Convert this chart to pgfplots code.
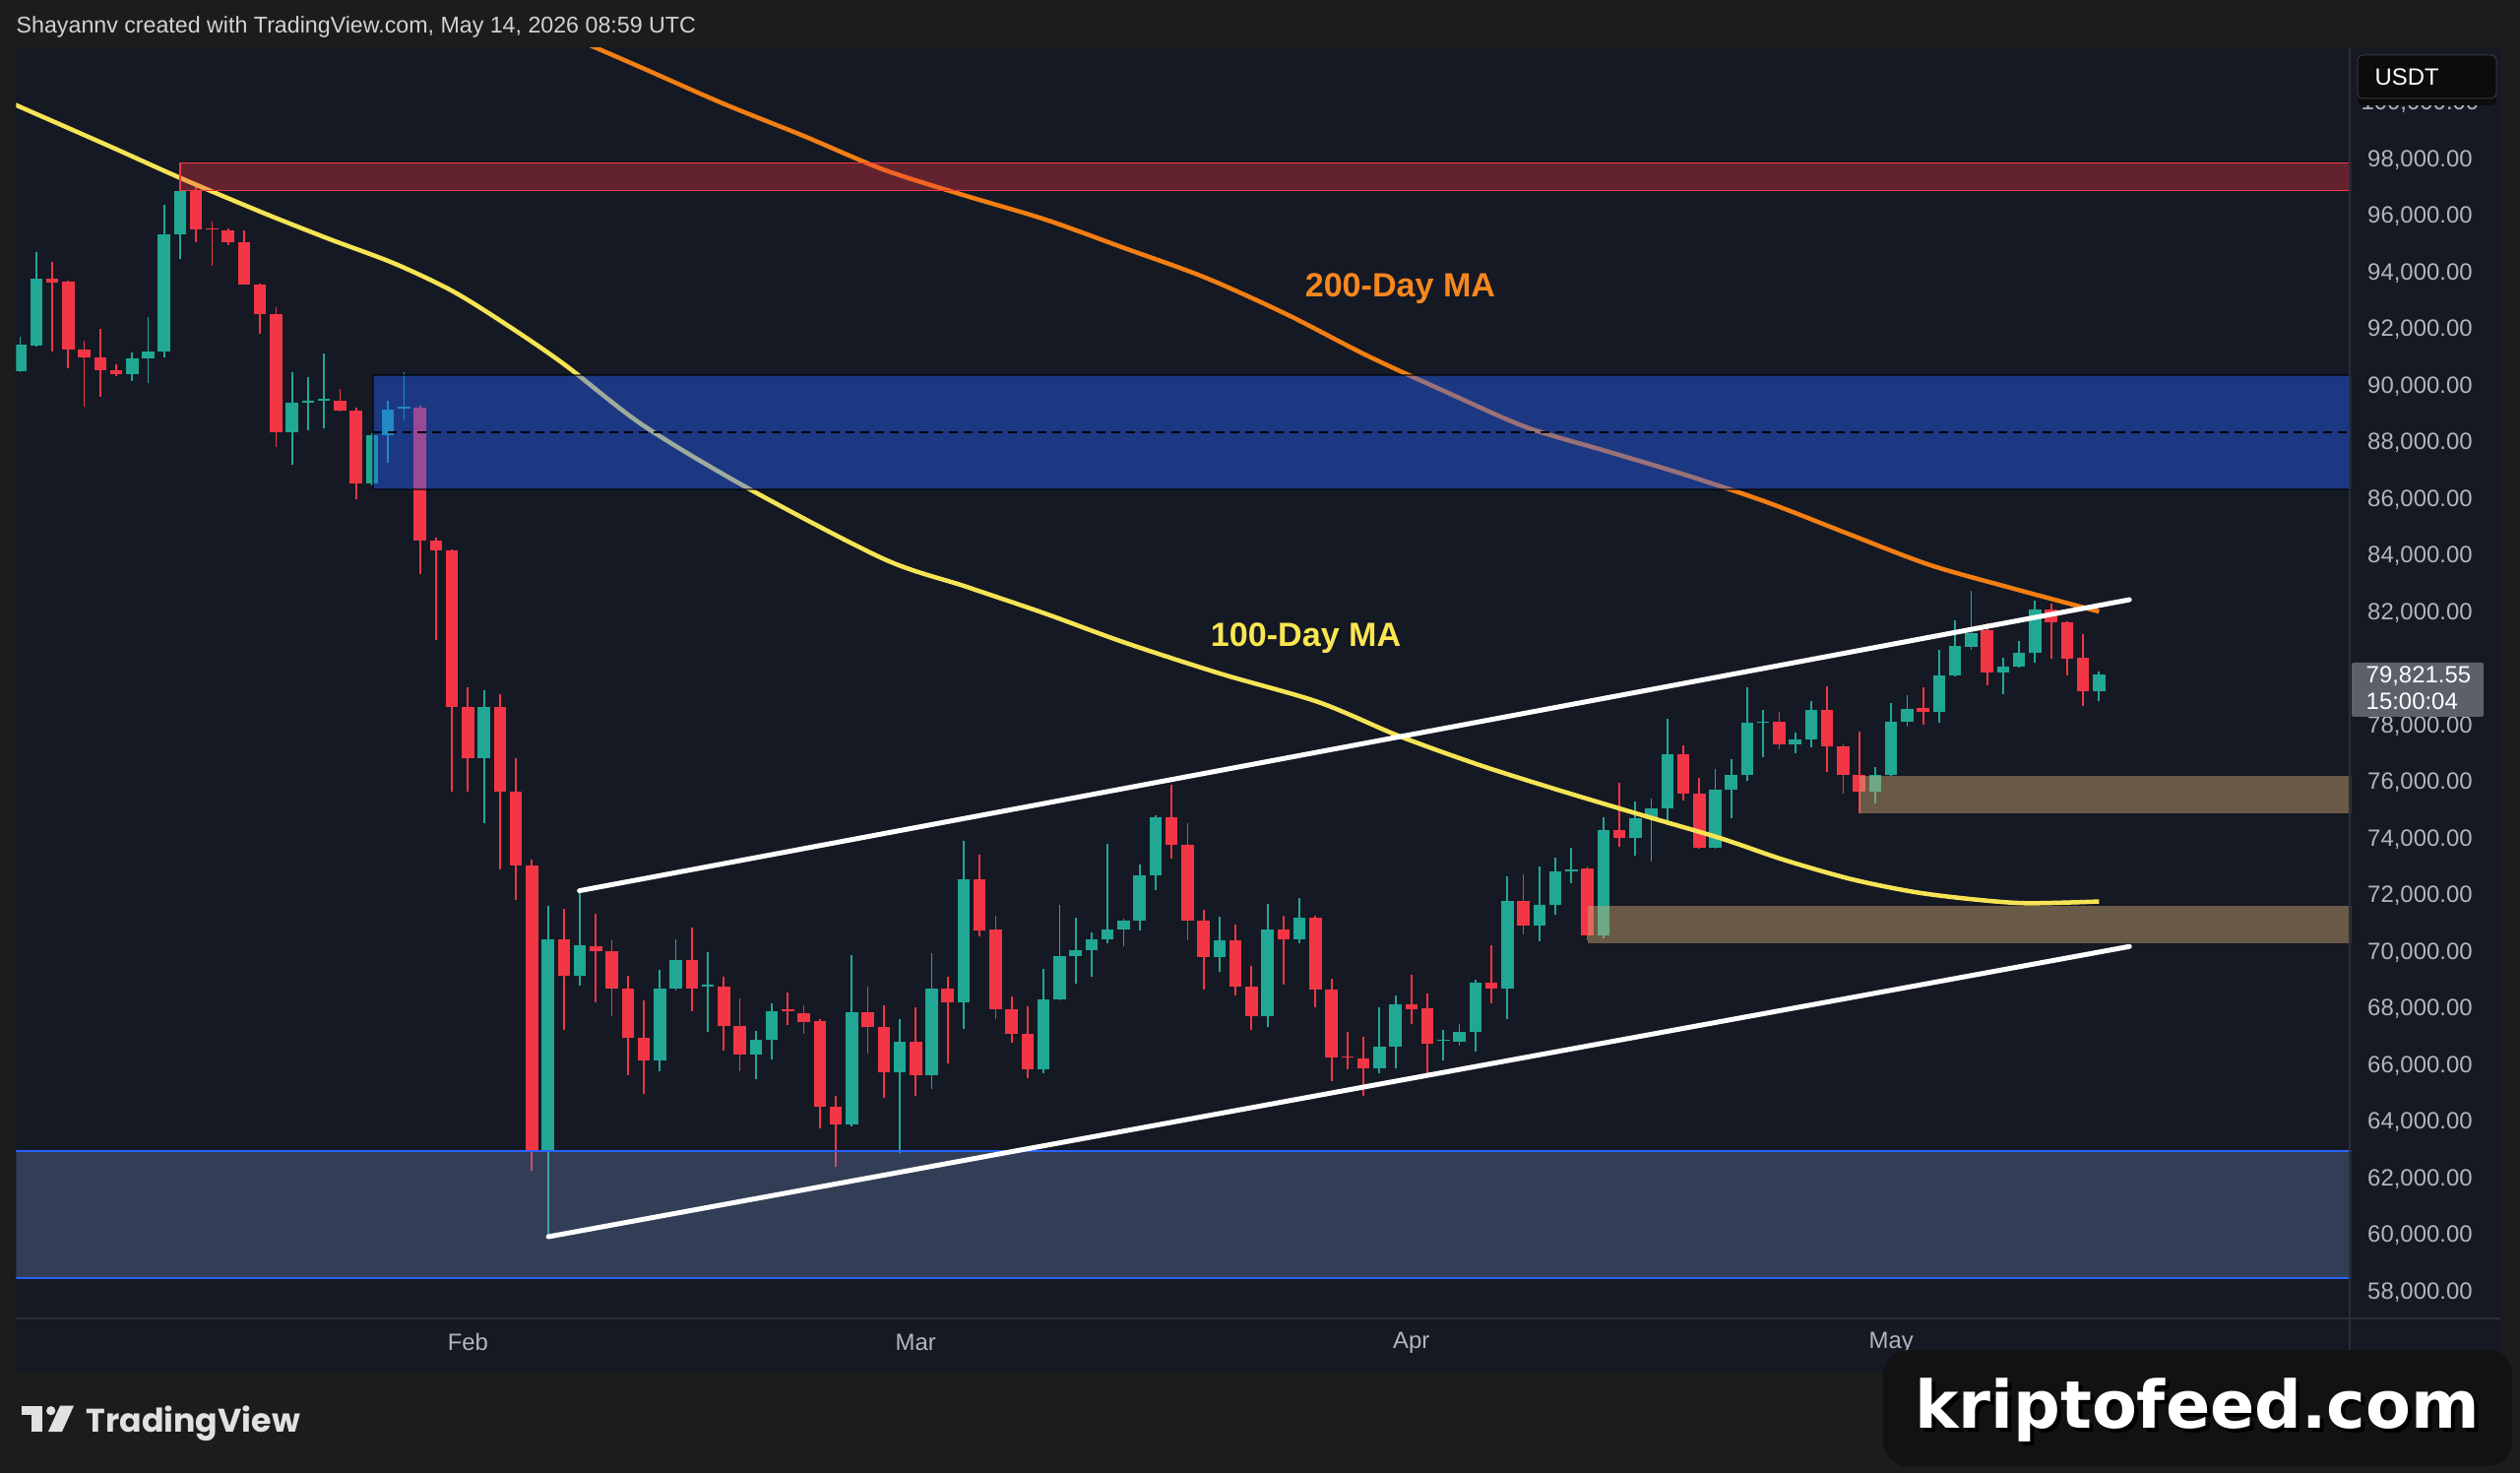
\documentclass[border=0pt]{standalone}
\usepackage{pgfplots}
\pgfplotsset{compat=1.18}
\usepackage{pgfplotstable}
\usepackage{fontspec}
\setmainfont{Liberation Sans}
\newfontfamily\dejavu{DejaVu Sans}
\newfontfamily\popp{Poppins}
\definecolor{outerbg}{RGB}{28,28,28}
\definecolor{panelbg}{RGB}{21,25,36}
\definecolor{axisgray}{RGB}{178,181,190}
\definecolor{sepcol}{RGB}{42,46,57}
\definecolor{tvgreen}{RGB}{32,168,148}
\definecolor{tvred}{RGB}{242,54,69}
\definecolor{maYellow}{RGB}{247,228,84}
\definecolor{maOrange}{RGB}{243,126,18}
\definecolor{lblOrange}{RGB}{247,135,30}
\definecolor{lblYellow}{RGB}{250,230,80}
\definecolor{boxBlue}{RGB}{41,98,255}
\definecolor{boxBrown}{RGB}{209,170,115}
\definecolor{boxSlate}{RGB}{119,149,200}
\definecolor{priceBox}{RGB}{93,96,107}
\definecolor{headTxt}{RGB}{210,210,210}
\definecolor{usdtBg}{RGB}{12,12,12}
\definecolor{usdtBorder}{RGB}{55,55,60}
\definecolor{logoCol}{RGB}{225,225,225}
\definecolor{wmBg}{RGB}{18,18,18}

\pgfplotstableread{
d o h l c
-28 90550 91760 90500 91470
-27 91460 94750 91400 93820
-21 90440 91210 90200 90980
-20 90980 92470 90110 91250
-19 91250 96430 91040 95390
-18 95390 97000 94520 96900
-11 88370 90520 87230 89420
-10 89420 90320 88460 89510
-9 89500 91180 88520 89580
-6 86560 88350 86520 88290
-5 88290 89480 87300 89190
-4 89230 90500 88800 89300
1 76880 79280 74590 78680
5 62960 71640 59970 70490
7 69180 72190 68840 70250
12 66200 69400 65830 68740
13 68740 70460 68650 69730
15 68800 70030 67220 68860
18 66390 67240 65550 66910
19 66910 68220 66215 67930
24 63930 69900 63870 67900
27 65790 67670 62940 66850
29 65690 69990 65170 68750
31 68250 73960 67320 72580
36 65870 69440 65750 68340
37 68340 71690 68300 69870
38 69870 71240 68910 70080
39 70080 70720 69140 70470
40 70470 73840 70330 70830
41 70830 71200 70220 71150
42 71130 73120 70800 72740
43 72740 74850 72210 74800
47 69830 71280 69320 70430
50 67750 71730 67380 70820
52 70470 71930 70330 71240
57 65900 68070 65730 66680
58 66680 68500 65930 68190
61 66880 67290 66190 66930
62 66850 67470 66710 67220
63 67200 69030 66510 68940
65 68740 72690 67640 71840
67 70970 73060 70390 71700
68 71700 73350 71350 72890
69 72880 73700 72460 72930
71 70620 74800 70510 74340
73 74050 75340 73440 74740
74 74740 75460 73230 75090
75 75090 78280 74510 77000
78 73700 76480 73670 75760
79 75760 76830 74740 76280
80 76280 79380 76080 78110
81 78110 78570 76920 78160
83 77350 77780 77060 77550
84 77550 78890 77260 78570
88 75700 76570 75290 76280
89 76280 78820 76250 78150
90 78150 79110 77990 78600
92 78500 80700 78140 79790
93 79790 81740 79760 80830
94 80810 82800 80710 81300
96 79900 80420 79150 80110
97 80110 81000 80080 80600
98 80600 82420 80230 82140
102 79230 79930 78880 79820
}\greentab

\pgfplotstableread{
d o h l c
-26 93820 94400 91250 93680
-25 93700 93750 90630 91310
-24 91310 91620 89280 91040
-23 91040 92050 89650 90580
-22 90580 90770 90380 90440
-17 96900 97130 95100 95560
-16 95600 95820 94260 95540
-15 95510 95600 94980 95080
-14 95100 95510 93590 93610
-13 93610 93620 91850 92550
-12 92570 92800 87880 88370
-8 89510 89910 89120 89160
-7 89160 89240 86030 86560
-3 89250 89320 83370 84570
-2 84570 84650 81050 84210
-1 84210 84250 75690 78680
0 78680 79380 75690 76880
2 78680 79120 72930 75690
3 75690 76880 71880 73090
4 73090 73300 62300 62960
6 70490 71540 67290 69180
8 70230 71390 68250 70070
9 70070 70450 67750 68740
10 68740 69190 65680 67000
11 67000 68320 65020 66200
14 69730 70900 67940 68740
16 68820 69150 66545 67410
17 67410 68400 65830 66400
20 68000 68590 67430 67930
21 67860 68160 67120 67550
22 67580 67650 63810 64570
23 64570 64940 62450 63930
25 67900 68800 66450 67380
26 67380 68130 64860 65790
28 66850 68090 64940 65690
30 68750 69150 66080 68250
32 72580 73460 70570 70800
33 70820 71320 67670 68010
34 68010 68450 66820 67140
35 67140 68110 65580 65870
44 74800 75940 73310 73810
45 73810 74590 70430 71150
46 71150 71520 68710 69830
48 70430 70990 68500 68800
49 68800 69520 67260 67750
51 70820 71300 68860 70470
53 71240 71320 68070 68710
54 68710 69090 65460 66310
55 66350 67200 65870 66300
56 66270 67030 64940 65900
59 68190 69230 67490 68010
60 68050 68570 65730 66800
64 68940 70250 68220 68740
66 71840 72770 70650 70970
70 72980 73060 70450 70620
72 74340 75990 73730 74050
76 77000 77330 75380 75610
77 75610 76160 73680 73700
82 78160 78510 77200 77350
85 78570 79420 76370 77290
86 77290 77350 75610 76280
87 76280 77820 74920 75700
91 78640 79380 78050 78520
95 81380 81640 79440 79900
99 82140 82320 80400 81670
100 81680 81700 79790 80400
101 80420 81270 78710 79230
}\redtab

\begin{document}
\begin{tikzpicture}[x=0.01cm,y=0.01cm]
\fill[outerbg] (0,0) rectangle (2560,1496);
\fill[panelbg] (16,102) rectangle (2540,1447);
\begin{axis}[
  at={(0.163cm,1.57cm)}, anchor=south west,
  width=23.707cm, height=12.90cm, scale only axis,
  xmin=-28.26, xmax=117.76, ymin=57086, ymax=101978,
  axis line style={draw=none},
  tick style={draw=none},
  ytick={58000,60000,62000,64000,66000,68000,70000,72000,74000,76000,78000,82000,84000,86000,88000,90000,92000,94000,96000,98000,100000},
  yticklabel pos=right,
  scaled y ticks=false,
  yticklabel style={anchor=center, xshift=0.70cm, font=\fontsize{6.8}{8}\selectfont, text=axisgray,
    /pgf/number format/fixed, /pgf/number format/fixed zerofill, /pgf/number format/precision=2,
    /pgf/number format/1000 sep={,}, /pgf/number format/assume math mode=true},
  xtick={0,28,59,89}, xticklabels={Feb,Mar,Apr,May},
  xticklabel style={anchor=center, yshift=-0.245cm, font=\fontsize{6.8}{8}\selectfont, text=axisgray},
]
% wicks
\addplot[draw=none, forget plot, error bars/.cd, y dir=plus, y explicit, error mark=none,
  error bar style={draw=tvgreen, line width=0.018cm}]
  table[x=d, y=l, y error expr={\thisrow{h}-\thisrow{l}}] {\greentab};
\addplot[draw=none, forget plot, error bars/.cd, y dir=plus, y explicit, error mark=none,
  error bar style={draw=tvred, line width=0.018cm}]
  table[x=d, y=l, y error expr={\thisrow{h}-\thisrow{l}}] {\redtab};
% bodies
\addplot[draw=none, forget plot, error bars/.cd, y dir=plus, y explicit, error mark=none,
  error bar style={draw=tvgreen, line width=0.125cm}]
  table[x=d, y=o, y error expr={\thisrow{c}-\thisrow{o}}] {\greentab};
\addplot[draw=none, forget plot, error bars/.cd, y dir=plus, y explicit, error mark=none,
  error bar style={draw=tvred, line width=0.125cm}]
  table[x=d, y=c, y error expr={\thisrow{o}-\thisrow{c}}] {\redtab};
% 100-day MA
\addplot[maYellow, line width=0.045cm, smooth] coordinates {
(-28.3,99950) (-22.3,98460) (-17.96,97360) (-12.83,96140) (-8.72,95220) (-4.62,94350)
(-0.93,93360) (2.5,92150) (6.03,90780) (10.95,88630) (17.5,86410) (26,83910) (31.1,82940)
(36.1,81980) (41.1,80950) (47.1,79850) (53.2,78850) (58.2,77660) (63.2,76640) (68,75780)
(73.3,74880) (78.3,74050) (82.3,73280) (86.5,72600) (90.4,72150) (93.9,71900) (97.4,71750) (102,71810)};
% 200-day MA
\addplot[maOrange, line width=0.045cm, smooth] coordinates {
(3.9,102970) (7.94,101980) (10.95,101240) (15.98,99990) (21.0,98850) (26.0,97660) (31.06,96750)
(36.1,95900) (41.1,94880) (46.1,93850) (51.2,92550) (56.2,91100) (61.2,89800) (66.2,88560)
(71.3,87700) (76.3,86850) (81.3,85900) (86.3,84800) (91.4,83700) (96.4,82900) (102,82050)};
% zones
\fill[boxSlate, fill opacity=0.3] (axis cs:-30,58500) rectangle (axis cs:120,63000);
\draw[boxBlue, line width=0.02cm] (axis cs:-30,63000) -- (axis cs:120,63000);
\draw[boxBlue, line width=0.02cm] (axis cs:-30,58500) -- (axis cs:120,58500);
\fill[tvred, fill opacity=0.35] (axis cs:-18,96930) rectangle (axis cs:120,97900);
\draw[tvred, line width=0.015cm] (axis cs:120,97900) -- (axis cs:-18,97900) -- (axis cs:-18,96930) -- (axis cs:120,96930);
\fill[boxBlue, fill opacity=0.43] (axis cs:-5.93,86360) rectangle (axis cs:120,90400);
\draw[black, draw opacity=0.6, line width=0.02cm] (axis cs:120,90400) -- (axis cs:-5.93,90400) -- (axis cs:-5.93,86360) -- (axis cs:120,86360);
\draw[black, line width=0.02cm, dash pattern=on 0.09cm off 0.06cm] (axis cs:-5.93,88380) -- (axis cs:120,88380);
\fill[boxBrown, fill opacity=0.45] (axis cs:70,70330) rectangle (axis cs:120,71670);
\fill[boxBrown, fill opacity=0.45] (axis cs:87,74920) rectangle (axis cs:120,76250);
% channel
\addplot[white, line width=0.05cm, line cap=round] coordinates {(6.97,72190) (103.9,82470)};
\addplot[white, line width=0.05cm, line cap=round] coordinates {(5.03,59970) (103.9,70220)};
% labels
\node[font=\fontsize{9.7}{11}\selectfont\bfseries, text=lblOrange] at (axis cs:58.3,93450) {200-Day MA};
\node[font=\fontsize{9.7}{11}\selectfont\bfseries, text=lblYellow] at (axis cs:52.4,81125) {100-Day MA};
\end{axis}
% separators
\draw[sepcol, line width=0.02cm] (2387,102) -- (2387,1447);
\draw[sepcol, line width=0.02cm] (16,157) -- (2540,157);
% header text
\node[anchor=west, inner sep=0pt, font=\fontsize{6.6}{8}\selectfont, text=headTxt] at (16,1468)
  {Shayannv created with TradingView.com, May 14, 2026 08:59 UTC};
% USDT box
\fill[usdtBg, rounded corners=0.05cm] (2395,1440) rectangle (2536,1389);
\draw[usdtBorder, line width=0.01cm, rounded corners=0.05cm] (2395,1440) rectangle (2536,1396);
\node[anchor=west, inner sep=0pt, font=\fontsize{6.8}{8}\selectfont, text=white] at (2412,1418) {USDT};
% current price box
\fill[priceBox, rounded corners=0.02cm] (2389,823) rectangle (2523,768);
\node[anchor=west, inner sep=0pt, font=\fontsize{6.8}{8}\selectfont, text=white] at (2403,809) {79,821.55};
\node[anchor=west, inner sep=0pt, font=\fontsize{6.8}{8}\selectfont, text=white] at (2403,784) {15:00:04};
% TradingView logo
\fill[logoCol] (21.7,68.3) rectangle (43.3,59.3);
\fill[logoCol] (31.7,68.3) rectangle (43.3,42);
\fill[logoCol] (51.7,63.3) circle (4.6);
\fill[logoCol] (61,68.3) -- (75,68.3) -- (63,42) -- (49,42) -- cycle;
\node[anchor=base west, inner sep=0pt, text=logoCol] at (87,42)
  {\resizebox{2.17cm}{!}{\popp\bfseries TradingView}};
% watermark
\fill[wmBg, fill opacity=0.93, rounded corners=0.25cm] (1913,125) rectangle (2552,7);
\node[font=\dejavu\bfseries\fontsize{19}{22}\selectfont, text=black] at (2236,60) {kriptofeed.com};
\node[font=\dejavu\bfseries\fontsize{19}{22}\selectfont, text=white] at (2232,64) {kriptofeed.com};
\pgfresetboundingbox
\useasboundingbox (0,0) rectangle (2560,1496);
\end{tikzpicture}
\end{document}
